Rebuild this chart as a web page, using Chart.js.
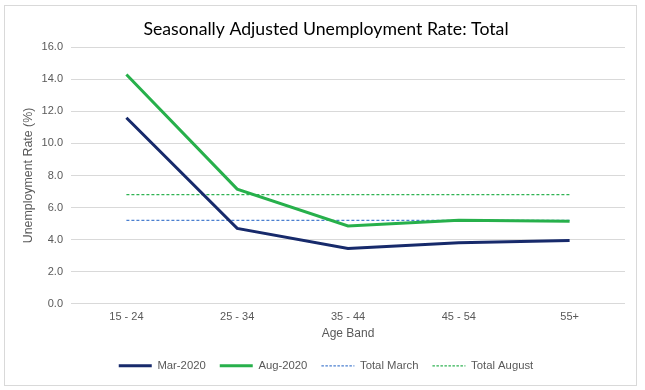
<!DOCTYPE html>
<html>
<head>
<meta charset="utf-8">
<script src="https://cdn.jsdelivr.net/npm/chart.js@4.4.0/dist/chart.umd.min.js"></script>
<style>
  html, body { margin: 0; padding: 0; background: #ffffff; }
  #wrap { position: relative; width: 645px; height: 390px; overflow: hidden; }
  #frame { position: absolute; left: 4px; top: 5px; width: 631px; height: 379px; border: 1px solid #d9d9d9; pointer-events: none; }
  canvas { position: absolute; left: 0; top: 0; }
</style>
</head>
<body>
<div id="wrap">
  <canvas id="c" width="645" height="390"></canvas>
  <div id="frame"></div>
</div>
<script>
const categories = ['15 - 24', '25 - 34', '35 - 44', '45 - 54', '55+'];
const mar2020 = [11.6, 4.7, 3.45, 3.8, 3.95];
const aug2020 = [14.3, 7.15, 4.85, 5.2, 5.15];
const totalMarch = [5.2, 5.2, 5.2, 5.2, 5.2];
const totalAugust = [6.8, 6.8, 6.8, 6.8, 6.8];
const yTicks = [0, 2, 4, 6, 8, 10, 12, 14, 16];

const grey = '#595959';
const font = "'Liberation Sans', Arial, sans-serif";

new Chart(document.getElementById('c'), {
  type: 'line',
  data: {
    labels: categories,
    datasets: [
      { label: 'Mar-2020', data: mar2020, borderColor: '#172a6b', backgroundColor: '#172a6b', borderWidth: 3, pointRadius: 0, tension: 0 },
      { label: 'Aug-2020', data: aug2020, borderColor: '#27b04b', backgroundColor: '#27b04b', borderWidth: 3, pointRadius: 0, tension: 0 },
      { label: 'Total March', data: totalMarch, borderColor: '#4a7fd0', backgroundColor: '#4a7fd0', borderWidth: 1.2, borderDash: [3, 2], pointRadius: 0, tension: 0 },
      { label: 'Total August', data: totalAugust, borderColor: '#2fb352', backgroundColor: '#2fb352', borderWidth: 1.2, borderDash: [3, 2], pointRadius: 0, tension: 0 }
    ]
  },
  options: {
    responsive: false,
    animation: false,
    layout: { padding: { left: 27, right: 20, top: 0, bottom: 8.5 } },
    plugins: {
      title: {
        display: true,
        text: 'Seasonally Adjusted Unemployment Rate: Total',
        color: '#000000',
        font: { family: "Lato, Carlito, sans-serif", size: 17.7, weight: 'normal' },
        padding: { top: 19, bottom: 7 }
      },
      legend: {
        position: 'bottom',
        labels: {
          color: grey,
          font: { family: font, size: 11.3 },
          usePointStyle: true,
          pointStyle: 'line',
          pointStyleWidth: 33,
          boxWidth: 33,
          boxHeight: 11,
          padding: 14,
          generateLabels: chart => chart.data.datasets.map((ds, i) => ({
            text: ds.label,
            datasetIndex: i,
            fillStyle: ds.borderColor,
            strokeStyle: ds.borderColor,
            lineWidth: ds.borderDash ? 1.3 : 3,
            lineDash: ds.borderDash ? [2.5, 1.5] : [],
            lineCap: 'butt',
            pointStyle: 'line',
            fontColor: grey,
            hidden: false
          }))
        }
      },
      tooltip: { enabled: false }
    },
    scales: {
      x: {
        offset: true,
        grid: { display: false, drawTicks: false },
        border: { display: false },
        ticks: { color: grey, font: { family: font, size: 11 }, padding: 7, maxRotation: 0 },
        title: { display: true, text: 'Age Band', color: grey, font: { family: font, size: 12 }, padding: { top: 0, bottom: 5.3 } },
        afterFit: s => { s.height = 42.5; }
      },
      y: {
        min: 0, max: 16,
        afterBuildTicks: s => { s.ticks = yTicks.map(v => ({ value: v })); },
        grid: { color: '#d9d9d9', lineWidth: 1, drawTicks: false },
        border: { display: false },
        ticks: { color: grey, font: { family: font, size: 11 }, padding: 8, callback: v => Number(v).toFixed(1) },
        title: { display: true, text: 'Unemployment Rate (%)', color: grey, font: { family: font, size: 12.4 }, padding: { top: -5.4, bottom: 0 } },
        afterFit: s => { s.width = 44; }
      }
    }
  }
});
</script>
</body>
</html>
